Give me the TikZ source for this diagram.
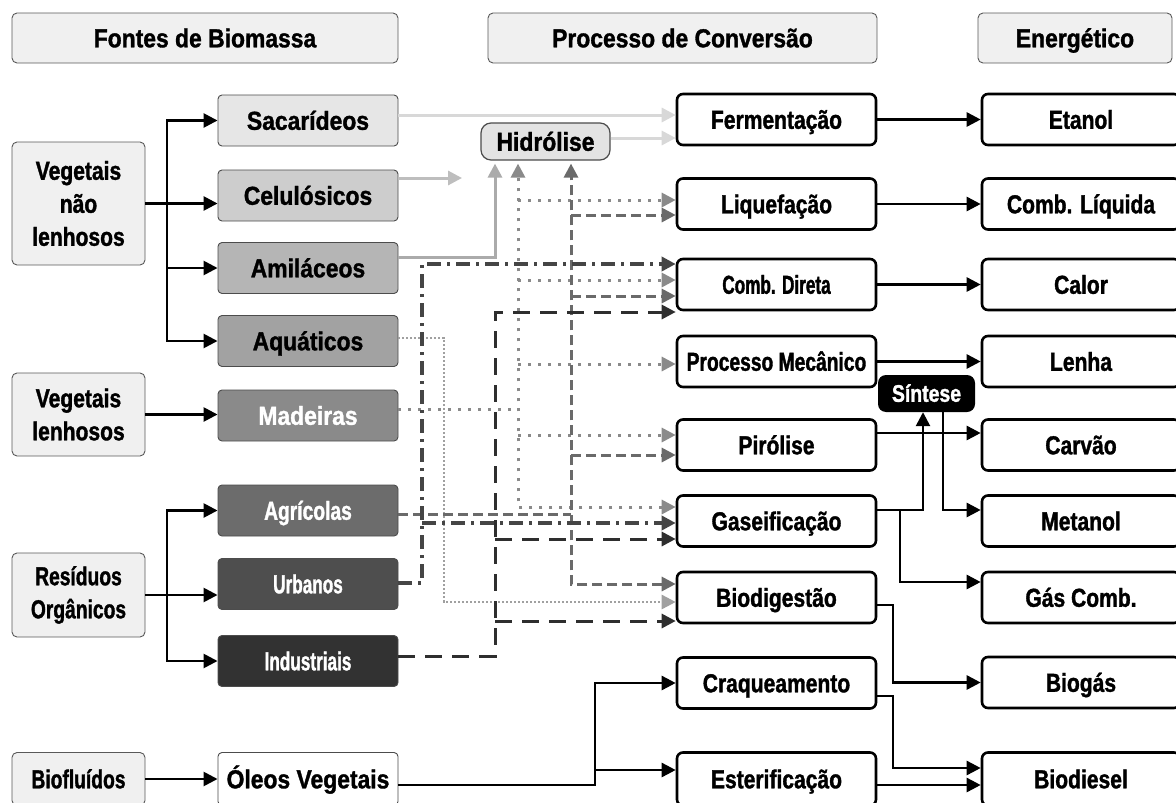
\documentclass[tikz,border=0pt]{standalone}
\usepackage{fontspec}
\setmainfont{Liberation Sans}
\newfontfamily\fA{Liberation Sans}[UprightFont={* Bold}, FakeStretch=0.66, FakeBold=1.3]
\newfontfamily\fB{Liberation Sans}[UprightFont={* Bold}, FakeStretch=0.74, FakeBold=1.3]
\newfontfamily\fC{Liberation Sans}[UprightFont={* Bold}, FakeStretch=0.81, FakeBold=1.3]
\newfontfamily\fD{Liberation Sans}[UprightFont={* Bold}, FakeStretch=0.88, FakeBold=1.3]
\newcommand\fsz{\fontsize{26}{33}\selectfont}
\usetikzlibrary{arrows.meta}
\definecolor{hdrfill}{HTML}{F0F0F0}
\definecolor{cSac}{HTML}{E6E6E6}
\definecolor{cCel}{HTML}{CDCDCD}
\definecolor{cAmi}{HTML}{B5B5B5}
\definecolor{cAqu}{HTML}{A2A2A2}
\definecolor{cMad}{HTML}{8A8A8A}
\definecolor{cAgr}{HTML}{6C6C6C}
\definecolor{cUrb}{HTML}{4E4E4E}
\definecolor{cInd}{HTML}{323232}
\definecolor{lSac}{HTML}{D8D8D8}
\definecolor{lCel}{HTML}{BEBEBE}
\definecolor{lAmi}{HTML}{ABABAB}
\definecolor{lAqu}{HTML}{A0A0A0}
\definecolor{lMad}{HTML}{8A8A8A}
\definecolor{lAgr}{HTML}{6A6A6A}
\definecolor{lUrb}{HTML}{454545}
\definecolor{lInd}{HTML}{2E2E2E}
\tikzset{
  base/.style={inner sep=0pt, align=center},
  one/.style={text height=19pt, text depth=0.4pt},
  hdr/.style={base, one, draw=black!65, line width=0.9pt, fill=hdrfill, rounded corners=5pt, minimum height=50pt, font=\fD\fsz},
  cat/.style={base, draw=black!65, line width=0.9pt, fill=hdrfill, rounded corners=5pt, minimum width=133pt, font=\fB\fsz},
  src/.style={base, one, draw=black!70, line width=0.9pt, rounded corners=4pt, minimum width=180pt, minimum height=51pt, font=\fD\fsz},
  proc/.style={base, one, draw=black, line width=2.6pt, fill=white, rounded corners=6pt, minimum width=199pt, minimum height=51pt, font=\fC\fsz},
  en/.style={proc, minimum width=198pt},
  tip/.tip={Triangle[length=14pt,width=14pt]},
  conn/.style={line width=2.6pt, -tip, line join=miter},
  gline/.style={line width=3pt, line join=miter},
  sacl/.style={gline, draw=lSac, -tip},
  cell/.style={gline, draw=lCel, -tip},
  amil/.style={gline, draw=lAmi, -tip, shorten >=3pt},
  fd/.style={line width=2.6pt, draw=lAqu, dash pattern=on 2pt off 2pt, -tip},
  dotm/.style={line width=3pt, draw=lMad, dash pattern=on 3pt off 7pt, -tip},
  agl/.style={line width=3pt, draw=lAgr, dash pattern=on 10pt off 5pt, -tip},
  dd/.style={line width=3.4pt, draw=lUrb, dash pattern=on 14pt off 6pt on 3pt off 6pt, -tip},
  ld/.style={line width=3pt, draw=lInd, dash pattern=on 17pt off 10pt, -tip},
}
\begin{document}
\begin{tikzpicture}[x=1pt,y=-1pt]
\clip (0,0) rectangle (1176,803);
\fill[white] (0,0) rectangle (1176,803);
% headers
\node[hdr, minimum width=386pt] (h1) at (205,38) {Fontes de Biomassa};
\node[hdr, minimum width=389pt] (h2) at (682.5,38) {Processo de Conversão};
\node[hdr, minimum width=194pt] (h3) at (1075,38) {Energético};
% categories
\node[cat, font=\fC\fsz, minimum height=123pt] (vnl) at (78.5,203.5) {Vegetais\\não\\lenhosos};
\node[cat, font=\fC\fsz, minimum height=83pt] (vl) at (78.5,414.5) {Vegetais\\lenhosos};
\node[cat, minimum height=84pt] (ro) at (78.5,595) {Resíduos\\Orgânicos};
\node[cat, one, minimum height=53pt] (biof) at (78.5,779) {Biofluídos};
% sources
\node[src, fill=cSac] (sac) at (308,120.5) {Sacarídeos};
\node[src, fill=cCel] (cel) at (308,195.5) {Celulósicos};
\node[src, fill=cAmi] (ami) at (308,268) {Amiláceos};
\node[src, fill=cAqu] (aqu) at (308,341) {Aquáticos};
\node[src, fill=cMad, text=white] (mad) at (308,415.5) {Madeiras};
\node[src, fill=cAgr, text=white, font=\fB\fsz] (agr) at (308,510.5) {Agrícolas};
\node[src, fill=cUrb, text=white, font=\fA\fsz] (urb) at (308,584) {Urbanos};
\node[src, fill=cInd, text=white, font=\fA\fsz] (ind) at (308,661) {Industriais};
\node[src, fill=white, minimum height=53pt] (oleo) at (308,779) {Óleos Vegetais};
% processes
\node[proc] (ferm) at (776.5,119.5) {Fermentação};
\node[proc] (liq) at (776.5,204) {Liquefação};
\node[proc, font=\fA\fsz] (comb) at (776.5,284.5) {Comb. Direta};
\node[proc, font=\fB\fsz] (mec) at (776.5,361.5) {Processo Mecânico};
\node[proc] (pir) at (776.5,445) {Pirólise};
\node[proc] (gas) at (776.5,521) {Gaseificação};
\node[proc] (bio) at (776.5,597.5) {Biodigestão};
\node[proc] (craq) at (776.5,683) {Craqueamento};
\node[proc, minimum height=53pt] (est) at (776.5,779) {Esterificação};
% energy
\node[en] (etanol) at (1081,119.5) {Etanol};
\node[en] (liqc) at (1081,204) {Comb. Líquida};
\node[en] (calor) at (1081,284.5) {Calor};
\node[en] (lenha) at (1081,361.5) {Lenha};
\node[en] (carvao) at (1081,445) {Carvão};
\node[en] (metanol) at (1081,521) {Metanol};
\node[en] (gascomb) at (1081,597.5) {Gás Comb.};
\node[en] (biogas) at (1081,682.5) {Biogás};
\node[en, minimum height=53pt] (biodiesel) at (1081,779) {Biodiesel};
% intermediate
\node[base, one, draw=black!70, line width=1.2pt, fill=black!11, rounded corners=10pt, minimum width=129pt, minimum height=37pt, font=\fD\fsz] (hid) at (545.5,141.5) {Hidrólise};
\node[base, fill=black, text=white, rounded corners=8pt, minimum width=97pt, minimum height=37pt, text height=17pt, text depth=0.4pt, font=\fC\fontsize{24}{28}\selectfont] (sin) at (926.5,393.5) {Síntese};
% column coordinates
\coordinate (xb) at (167,0);
\coordinate (xdd) at (422,0);
\coordinate (xaq) at (444,0);
\coordinate (xld) at (495,0);
\coordinate (xmd) at (518,0);
\coordinate (xag) at (571,0);
\coordinate (xol) at (595,0);
\coordinate (xbg) at (893,0);
\coordinate (xg1) at (900,0);
\coordinate (xg2) at (923,0);
\coordinate (xs) at (943,0);
% row coordinates
\coordinate (ysac) at (0,115);
\coordinate (yhid) at (0,138);
\coordinate (ycel) at (0,178);
\coordinate (yami) at (0,257);
\coordinate (yaq) at (0,338);
\coordinate (ymad) at (0,409);
\coordinate (yagr) at (0,514);
\coordinate (yurb) at (0,583);
\coordinate (yind) at (0,656);
\coordinate (yl1) at (0,200);
\coordinate (yl2) at (0,215);
\coordinate (yc1) at (0,264);
\coordinate (yc2) at (0,280);
\coordinate (yc3) at (0,296);
\coordinate (yc4) at (0,312);
\coordinate (ym1) at (0,364);
\coordinate (yp1) at (0,435);
\coordinate (yp2) at (0,455);
\coordinate (yg1) at (0,507);
\coordinate (yg2) at (0,523);
\coordinate (yg3) at (0,539);
\coordinate (yb1) at (0,584);
\coordinate (yb2) at (0,602);
\coordinate (yb3) at (0,621);
\coordinate (ypir) at (0,433);
\coordinate (ygas) at (0,510);
\coordinate (ygc) at (0,582);
\coordinate (ybio) at (0,605);
\coordinate (ycraq) at (0,696);
\coordinate (ybd1) at (0,768);
\coordinate (ybd2) at (0,785);
\coordinate (yol) at (0,785);
\coordinate (yest) at (0,770);
\coordinate (celend) at (462,178);
% left black connectors
\draw[conn, tip-tip] (sac.west) -- (xb |- sac.west) -- (xb |- aqu.west) -- (aqu.west);
\draw[conn] (xb |- ami.west) -- (ami.west);
\draw[conn] (vnl.east) -- (vnl.east -| cel.west);
\draw[conn] (vl.east) -- (vl.east -| mad.west);
\draw[conn, tip-tip] (agr.west) -- (xb |- agr.west) -- (xb |- ind.west) -- (ind.west);
\draw[conn] (ro.east) -- (ro.east -| urb.west);
\draw[conn] (biof.east) -- (biof.east -| oleo.west);
% gray connectors
\draw[sacl] (sac.east |- ysac) -- (ferm.west |- ysac);
\draw[sacl] (hid.east |- yhid) -- (ferm.west |- yhid);
\draw[cell] (cel.east |- ycel) -- (celend);
\draw[amil] (ami.east |- yami) -- (xld |- yami) -- (xld |- hid.south);
% aquaticos
\draw[fd] (aqu.east |- yaq) -- (xaq |- yaq) -- (xaq |- yb2) -- (bio.west |- yb2);
% madeiras
\draw[dotm, -] (mad.east |- ymad) -- (xmd |- ymad);
\draw[dotm, tip-tip, shorten >=3pt] (gas.west |- yg1) -- (xmd |- yg1) -- (xmd |- hid.south);
\draw[dotm] (xmd |- yl1) -- (liq.west |- yl1);
\draw[dotm] (xmd |- yc2) -- (comb.west |- yc2);
\draw[dotm] (xmd |- ym1) -- (mec.west |- ym1);
\draw[dotm] (xmd |- yp1) -- (pir.west |- yp1);
% agricolas
\draw[agl, -] (agr.east |- yagr) -- (xag |- yagr);
\draw[agl, tip-tip, shorten >=3pt] (bio.west |- yb1) -- (xag |- yb1) -- (xag |- hid.south);
\draw[agl] (xag |- yl2) -- (liq.west |- yl2);
\draw[agl] (xag |- yc3) -- (comb.west |- yc3);
\draw[agl] (xag |- yp2) -- (pir.west |- yp2);
% urbanos
\draw[dd] (urb.east |- yurb) -- (xdd |- yurb) -- (xdd |- yc1) -- (comb.west |- yc1);
\draw[dd] (xdd |- yg2) -- (gas.west |- yg2);
% industriais
\draw[ld] (ind.east |- yind) -- (xld |- yind) -- (xld |- yc4) -- (comb.west |- yc4);
\draw[ld] (xld |- yg3) -- (gas.west |- yg3);
\draw[ld] (xld |- yb3) -- (bio.west |- yb3);
% right black connectors
\draw[conn] (ferm.east) -- (etanol.west);
\draw[conn] (liq.east) -- (liqc.west);
\draw[conn] (comb.east) -- (calor.west);
\draw[conn] (mec.east) -- (lenha.west);
\draw[conn] (pir.east |- ypir) -- (carvao.west |- ypir);
\draw[conn] (gas.east |- ygas) -- (xg2 |- ygas) -- (xg2 |- sin.south);
\draw[conn] (xg1 |- ygas) -- (xg1 |- ygc) -- (gascomb.west |- ygc);
\draw[conn] (xs |- sin.south) -- (xs |- ygas) -- (metanol.west |- ygas);
\draw[conn] (bio.east |- ybio) -- (xbg |- ybio) -- (xbg |- biogas.west) -- (biogas.west);
\draw[conn] (craq.east |- ycraq) -- (xbg |- ycraq) -- (xbg |- ybd1) -- (biodiesel.west |- ybd1);
\draw[conn] (est.east |- ybd2) -- (biodiesel.west |- ybd2);
\draw[conn] (oleo.east |- yol) -- (xol |- yol) -- (xol |- craq.west) -- (craq.west);
\draw[conn] (xol |- yest) -- (est.west |- yest);
\end{tikzpicture}
\end{document}
